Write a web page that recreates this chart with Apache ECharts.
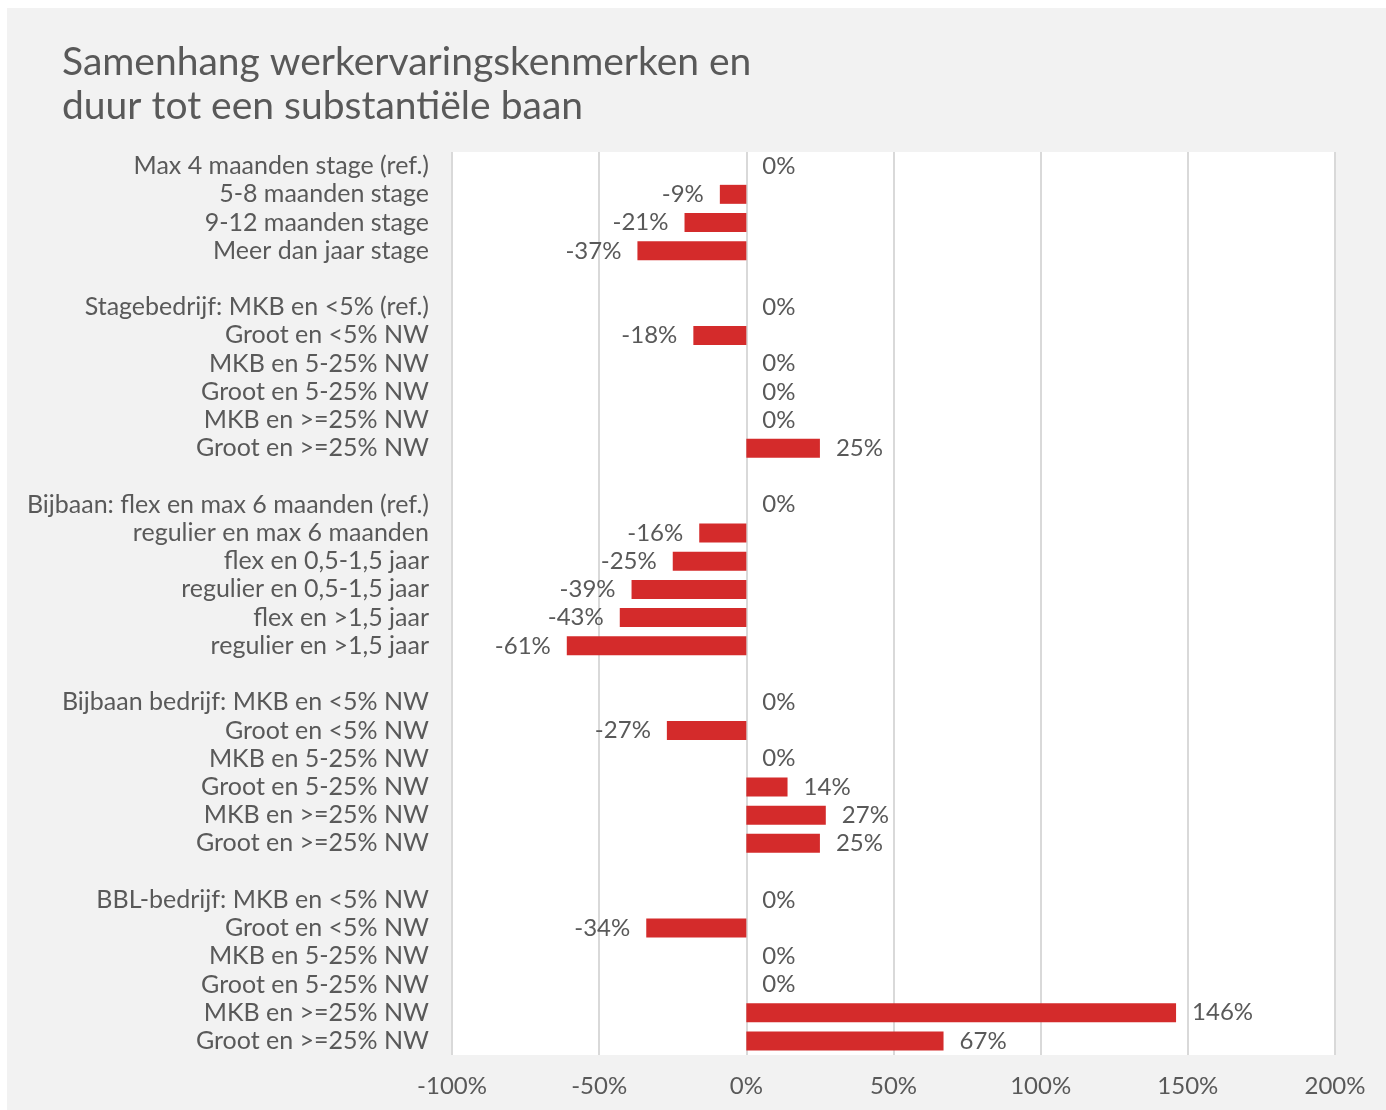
<!DOCTYPE html>
<html>
<head>
<meta charset="utf-8">
<script src="https://cdn.jsdelivr.net/npm/echarts@6/dist/echarts.min.js"></script>
<style>
html,body{margin:0;padding:0;background:#ffffff;}
#chart{position:absolute;left:7px;top:8px;width:1379px;height:1102px;}
</style>
</head>
<body>
<div id="chart"></div>
<script>
var titleText = 'Samenhang werkervaringskenmerken en\nduur tot een substantiële baan';

var categories = [
  'Max 4 maanden stage (ref.)',
  '5-8 maanden stage',
  '9-12 maanden stage',
  'Meer dan jaar stage',
  '',
  'Stagebedrijf: MKB en <5% (ref.)',
  'Groot en <5% NW',
  'MKB en 5-25% NW',
  'Groot en 5-25% NW',
  'MKB en >=25% NW',
  'Groot en >=25% NW',
  '',
  'Bijbaan: flex en max 6 maanden (ref.)',
  'regulier en max 6 maanden',
  'flex en 0,5-1,5 jaar',
  'regulier en 0,5-1,5 jaar',
  'flex en >1,5 jaar',
  'regulier en >1,5 jaar',
  '',
  'Bijbaan bedrijf: MKB en <5% NW',
  'Groot en <5% NW',
  'MKB en 5-25% NW',
  'Groot en 5-25% NW',
  'MKB en >=25% NW',
  'Groot en >=25% NW',
  '',
  'BBL-bedrijf: MKB en <5% NW',
  'Groot en <5% NW',
  'MKB en 5-25% NW',
  'Groot en 5-25% NW',
  'MKB en >=25% NW',
  'Groot en >=25% NW'
];

var values = [
  0, -9, -21, -37,
  null,
  0, -18, 0, 0, 0, 25,
  null,
  0, -16, -25, -39, -43, -61,
  null,
  0, -27, 0, 14, 27, 25,
  null,
  0, -34, 0, 0, 146, 67
];

var xTicks = [-100, -50, 0, 50, 100, 150, 200];

var FONT = 'Lato';
var TXT = '#595959';

// unique keys for the category axis (names repeat between groups)
var categoryKeys = categories.map(function (c, i) { return 'c' + i; });

var seriesData = values.map(function (v) {
  if (v === null) return { value: null, label: { show: false } };
  return { value: v, label: { position: v < 0 ? 'left' : 'right' } };
});

var chart = echarts.init(document.getElementById('chart'));
chart.setOption({
  backgroundColor: '#f2f2f2',
  animation: false,
  textStyle: { fontFamily: FONT },
  title: {
    text: titleText,
    left: 55,
    top: 32,
    padding: 0,
    textStyle: {
      fontFamily: FONT,
      fontSize: 39,
      fontWeight: 'normal',
      color: TXT,
      lineHeight: 44
    }
  },
  grid: {
    left: 445,
    right: 51,
    top: 144,
    bottom: 55,
    show: true,
    backgroundColor: '#ffffff',
    borderWidth: 0,
    containLabel: false
  },
  xAxis: {
    type: 'value',
    min: xTicks[0],
    max: xTicks[xTicks.length - 1],
    interval: 50,
    axisLine: { show: false },
    axisTick: { show: false },
    splitLine: { show: true, lineStyle: { color: '#d9d9d9', width: 2 } },
    axisLabel: {
      formatter: '{value}%',
      fontFamily: FONT,
      fontSize: 24,
      color: TXT,
      margin: 19
    }
  },
  yAxis: {
    type: 'category',
    inverse: true,
    data: categoryKeys,
    axisLine: { show: false },
    axisTick: { show: false },
    splitLine: { show: false },
    axisLabel: {
      fontFamily: FONT,
      fontSize: 25,
      color: TXT,
      margin: 23,
      interval: 0,
      formatter: function (val, idx) { return categories[idx]; }
    }
  },
  series: [{
    type: 'bar',
    data: seriesData,
    barWidth: 19,
    itemStyle: { color: '#d42b2b' },
    label: {
      show: true,
      formatter: function (p) { return p.value + '%'; },
      fontFamily: FONT,
      fontSize: 24,
      color: TXT,
      distance: 16
    }
  }]
});
</script>
</body>
</html>
